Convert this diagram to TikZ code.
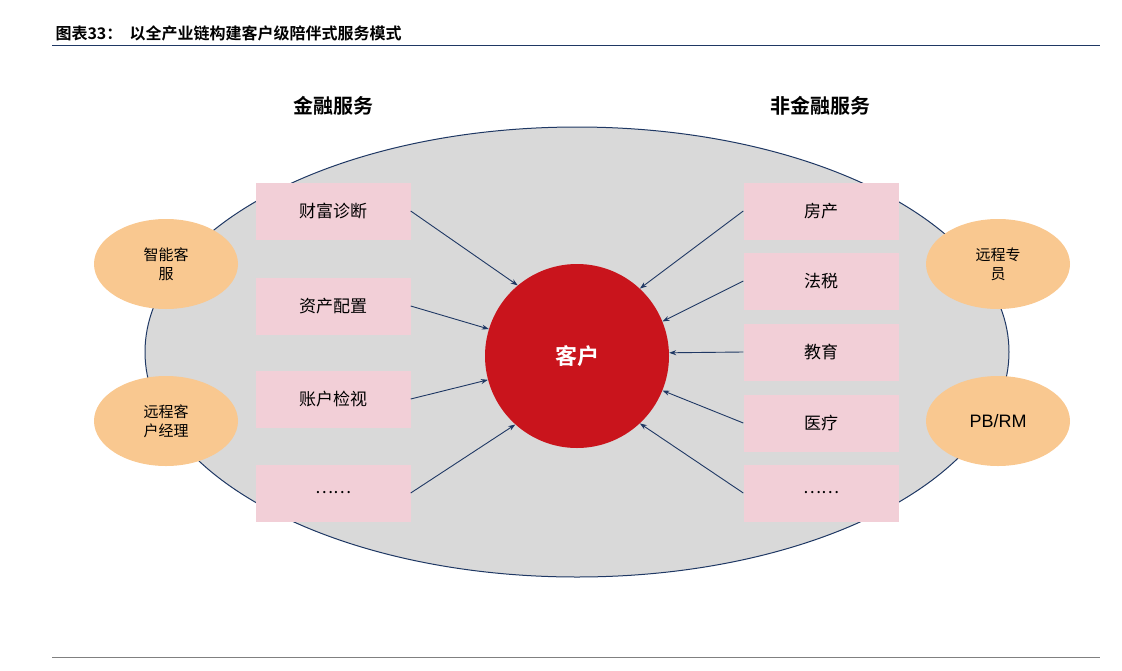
\documentclass[tikz,border=0pt]{standalone}
\usepackage{fontspec}
\setmainfont{Liberation Sans}
\newfontfamily\cjk{Noto Sans CJK SC}
\newfontfamily\cjkb{Noto Sans CJK SC Bold}
\usetikzlibrary{arrows.meta}
\definecolor{navy}{HTML}{1F3864}
\definecolor{pinkb}{HTML}{F2CFD7}
\definecolor{orng}{HTML}{F9C890}
\definecolor{redc}{HTML}{C9141C}
\tikzset{
 box/.style={fill=pinkb,minimum width=155pt,minimum height=57pt,font=\cjk\fontsize{17}{17}\selectfont},
 oval/.style={ellipse,fill=orng,minimum width=144pt,minimum height=90pt,align=center,font=\cjk\fontsize{15}{19}\selectfont},
 arr/.style={-{Stealth[length=7pt,width=5pt]},draw=navy,line width=0.9pt},
 head/.style={font=\cjkb\fontsize{20}{20}\selectfont}
}
\usetikzlibrary{shapes.geometric}
\begin{document}
\begin{tikzpicture}[x=1pt,y=-1pt]
\useasboundingbox (0,0) rectangle (1122,670);
\node[anchor=west,font=\cjkb\fontsize{16}{16}\selectfont] (title) at (52,33) {图表33：\ \ 以全产业链构建客户级陪伴式服务模式};
\draw[navy,line width=1pt] (52,45) -- (1100,45);
\draw[gray,line width=0.8pt] (52,657) -- (1100,657);
\draw[navy,fill=black!15,line width=1pt] (577,352) ellipse [x radius=432, y radius=225];
\node[head] (h1) at (333,106) {金融服务};
\node[head] (h2) at (820,106) {非金融服务};
\node[circle,fill=redc,minimum size=184pt,text=white,font=\cjkb\fontsize{22}{22}\selectfont] (c) at (577,356) {客户};
\node[box] (l1) at (333,211) {财富诊断};
\node[box] (l2) at (333,306) {资产配置};
\node[box] (l3) at (333,399) {账户检视};
\node[box] (l4) at (333,493) {……};
\node[box] (r1) at (821,211) {房产};
\node[box] (r2) at (821,281) {法税};
\node[box] (r3) at (821,352) {教育};
\node[box] (r4) at (821,423) {医疗};
\node[box] (r5) at (821,493) {……};
\node[oval] (o1) at (166,264) {智能客\\服};
\node[oval] (o2) at (166,421) {远程客\\户经理};
\node[oval] (o3) at (998,264) {远程专\\员};
\node[oval,font=\fontsize{18}{18}\selectfont] (o4) at (998,421) {PB/RM};
\draw[arr] (l1.east) -- (c.130);
\draw[arr] (l2.east) -- (c.163);
\draw[arr] (l3.east) -- (c.195);
\draw[arr] (l4.east) -- (c.228);
\draw[arr] (r1.west) -- (c.47);
\draw[arr] (r2.west) -- (c.22);
\draw[arr] (r3.west) -- (c.2);
\draw[arr] (r4.west) -- (c.-22);
\draw[arr] (r5.west) -- (c.-47);
\end{tikzpicture}
\end{document}
